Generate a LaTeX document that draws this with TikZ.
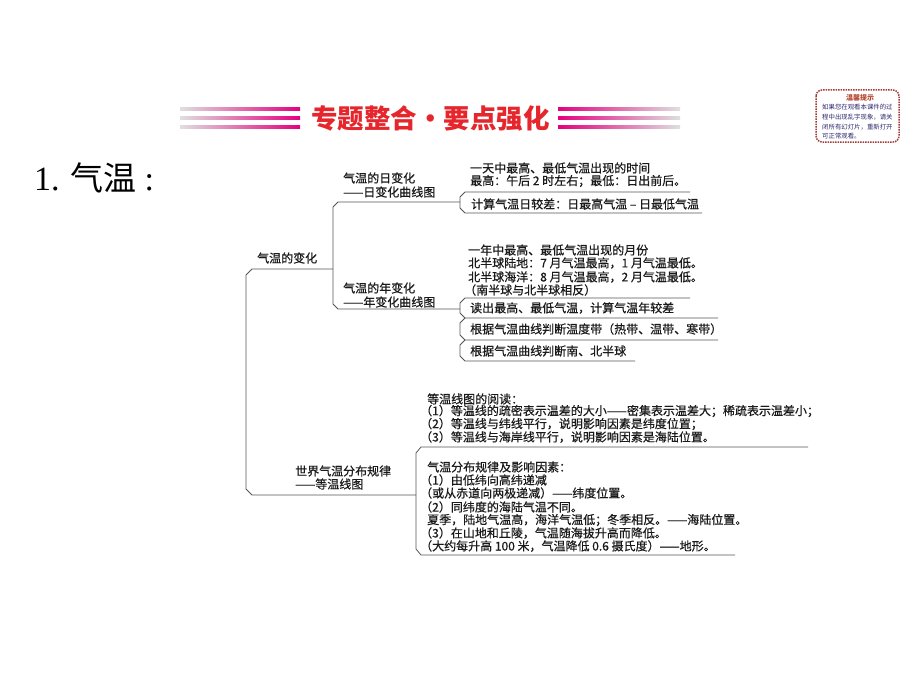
\documentclass[tikz,border=0pt]{standalone}
\usepackage{fontspec}
\setmainfont{Noto Sans CJK SC}
\newfontfamily\cjkm{Noto Sans CJK SC}[FakeBold=0.45]
\newfontfamily\serifL{Liberation Serif}
\definecolor{linec}{HTML}{555555}
\definecolor{txt}{HTML}{1A1A1A}
\definecolor{bannerred}{HTML}{E5262C}
\definecolor{stripe}{HTML}{E4007F}
\definecolor{tipborder}{HTML}{A33A3A}
\definecolor{tiptitle}{HTML}{B5462E}
\definecolor{tiptext}{HTML}{2E2A6E}
\tikzset{
  treeline/.style={draw=linec, line width=0.8pt},
  lineTxt/.style={inner sep=0pt, anchor=west, text=txt, font=\cjkm\fontsize{12}{13}\selectfont},
  tipTxt/.style={inner sep=0pt, anchor=west, text=tiptext, font=\fontsize{6.4}{7}\selectfont},
}
\begin{document}
\begin{tikzpicture}[x=1pt,y=-1pt]
\fill[white] (0,0) rectangle (920,690);
\useasboundingbox (0,0) rectangle (920,690);

% ---------- banner ----------
\foreach \yy in {109,118,127}{
  \shade[left color=gray!25, right color=stripe] (180,{\yy-1.5}) rectangle (300,{\yy+1.5});
  \shade[left color=stripe, right color=gray!25] (558,{\yy-1.5}) rectangle (680,{\yy+1.5});
}
\node[inner sep=0pt, text=bannerred, font=\fontsize{26.5}{27}\selectfont\bfseries] (banner) at (430.5,118) {专题整合・要点强化};

% ---------- tip box ----------
\draw[tipborder, line width=1.5pt, densely dotted, rounded corners=6pt] (816,90) rectangle (899,142);
\node[inner sep=0pt, text=tiptitle, font=\fontsize{7}{7}\selectfont\bfseries] (tiptitle) at (860,98) {温馨提示};
\node[tipTxt] (tip1) at (822,107) {如果您在观看本课件的过};
\node[tipTxt] (tip2) at (822,117) {程中出现乱字现象，请关};
\node[tipTxt] (tip3) at (822,127) {闭所有幻灯片，重新打开};
\node[tipTxt] (tip4) at (822,136) {可正常观看。};

% ---------- title ----------
\node[anchor=base west, inner sep=0pt, text=black] (title) at (34,190)
  {{\serifL\fontsize{34}{34}\selectfont 1.}\hspace{11pt}{\fontsize{33}{33}\selectfont 气温}\hspace{8pt}{\serifL\fontsize{34}{34}\selectfont :}};

% ---------- tree coordinates ----------
\coordinate (mainTop) at (333,269);
\coordinate (mainBot) at (416,495);
\coordinate (dayJoin) at (460,202);
\coordinate (yearJoin) at (460,309);

% main bracket
\draw[treeline] (mainTop) -- (252,269) -- (246,275) -- (246,489) -- (252,495) -- (mainBot);
% second bracket
\draw[treeline] (dayJoin) -- (338,202) -- (333,207) -- (333,304) -- (338,309) -- (yearJoin);
% day box
\draw[treeline] (690,192) -- (465,192) -- (460,197) -- (460,208) -- (465,213) -- (702,213);
% year boxes
\draw[treeline] (690,298) -- (465,298) -- (460,303) -- (460,313) -- (465,318) -- (718,318);
\draw[treeline] (465,318) -- (460,323) -- (460,335) -- (465,340) -- (718,340);
\draw[treeline] (465,340) -- (460,345) -- (460,356) -- (465,361) -- (635,361);
% lower bracket
\draw[treeline] (808,447) -- (421,447) -- (416,453) -- (416,549) -- (421,555) -- (735,555);

% ---------- labels ----------
\node[lineTxt] (lblChange) at (257,258) {气温的变化};
\node[lineTxt] (lblDay1) at (343,178) {气温的日变化};
\node[lineTxt] (lblDay2) at (343,192) {——日变化曲线图};
\node[lineTxt] (lblYear1) at (343,288) {气温的年变化};
\node[lineTxt] (lblYear2) at (343,302) {——年变化曲线图};
\node[lineTxt] (lblWorld1) at (295,471) {世界气温分布规律};
\node[lineTxt] (lblWorld2) at (295,484) {——等温线图};

% ---------- day block ----------
\node[lineTxt] (d1) at (470,168) {一天中最高、最低气温出现的时间};
\node[lineTxt] (d2) at (470,181) {最高：午后 2 时左右；最低：日出前后。};
\node[lineTxt] (d3) at (471,204) {计算气温日较差：日最高气温 – 日最低气温};

% ---------- year block ----------
\node[lineTxt] (y1) at (468,250) {一年中最高、最低气温出现的月份};
\node[lineTxt] (y2) at (468,263) {北半球陆地：7 月气温最高，1 月气温最低。};
\node[lineTxt] (y3) at (468,277) {北半球海洋：8 月气温最高，2 月气温最低。};
\node[lineTxt] (y4) at (464,290) {（南半球与北半球相反）};
\node[lineTxt] (y5) at (470,308) {读出最高、最低气温，计算气温年较差};
\node[lineTxt] (y6) at (470,329) {根据气温曲线判断温度带（热带、温带、寒带）};
\node[lineTxt] (y7) at (470,351) {根据气温曲线判断南、北半球};

% ---------- isotherm reading ----------
\node[lineTxt] (i1) at (427,399) {等温线图的阅读：};
\node[lineTxt] (i2) at (420,411) {（1）等温线的疏密表示温差的大小——密集表示温差大；稀疏表示温差小；};
\node[lineTxt] (i3) at (420,424) {（2）等温线与纬线平行，说明影响因素是纬度位置；};
\node[lineTxt] (i4) at (420,437) {（3）等温线与海岸线平行，说明影响因素是海陆位置。};

% ---------- distribution block ----------
\node[lineTxt] (w1) at (427,467) {气温分布规律及影响因素：};
\node[lineTxt] (w2) at (420,480) {（1）由低纬向高纬递减};
\node[lineTxt] (w3) at (420,493) {（或从赤道向两极递减）——纬度位置。};
\node[lineTxt] (w4) at (420,507) {（2）同纬度的海陆气温不同。};
\node[lineTxt] (w5) at (427,520) {夏季，陆地气温高，海洋气温低；冬季相反。——海陆位置。};
\node[lineTxt] (w6) at (420,533) {（3）在山地和丘陵，气温随海拔升高而降低。};
\node[lineTxt] (w7) at (420,546) {（大约每升高 100 米，气温降低 0.6 摄氏度）——地形。};
\end{tikzpicture}
\end{document}
